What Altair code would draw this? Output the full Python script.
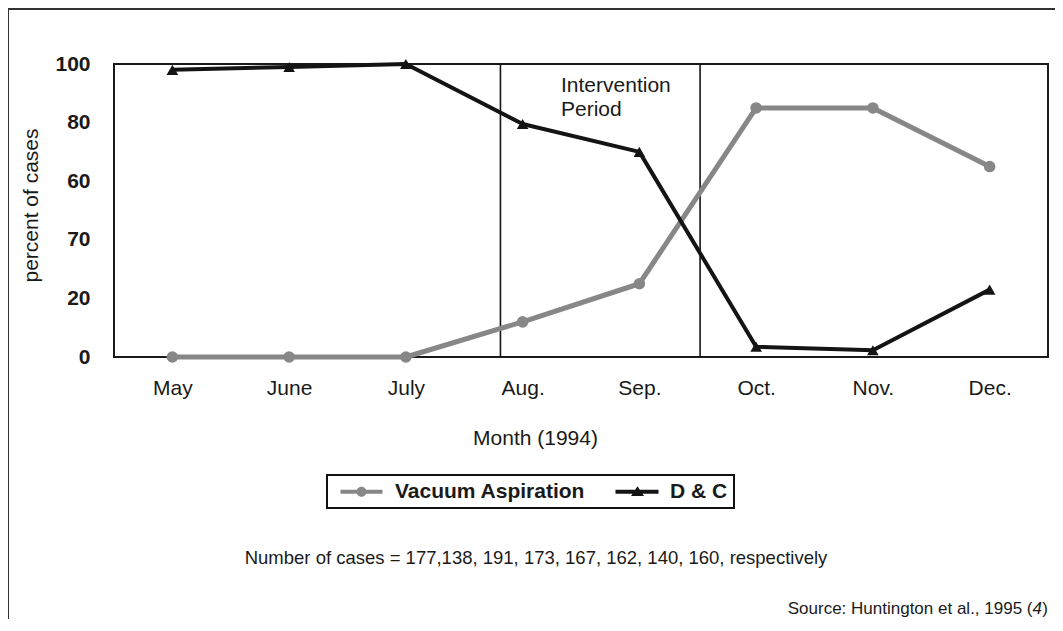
import altair as alt
import pandas as pd

months = ["May", "June", "July", "Aug.", "Sep.", "Oct.", "Nov.", "Dec."]
vacuum = [0, 0, 0, 12, 25, 85, 85, 65]
dc = [98, 99, 100, 79.5, 70, 3.5, 2.3, 23]
series_names = ["Vacuum Aspiration", "D & C"]
y_ticks = [0, 20, 40, 60, 80, 100]
y_tick_labels = ["0", "20", "70", "60", "80", "100"]
intervention_bounds = [2.81, 4.52]
intervention_label = "Intervention\nPeriod"
x_title = "Month (1994)"
y_title = "percent of cases"
note_text = "Number of cases = 177,138, 191, 173, 167, 162, 140, 160, respectively"
source_text = "Source: Huntington et al., 1995 ("
source_ref = "4"

FONT = "Liberation Sans"
GRAY = "#878787"
BLACK = "#141414"
FS = 21

rows = []
for i, m in enumerate(months):
    rows.append({"idx": i, "value": vacuum[i], "series": series_names[0]})
    rows.append({"idx": i, "value": dc[i], "series": series_names[1]})
df = pd.DataFrame(rows)

x_enc = alt.X(
    "idx:Q",
    scale=alt.Scale(domain=[-0.5, len(months) - 0.5], nice=False, zero=False),
    axis=alt.Axis(
        values=list(range(len(months))),
        labelExpr="[" + ",".join("'" + m + "'" for m in months) + "][datum.value]",
        title=x_title, titleX=421,
        grid=False, ticks=False, tickSize=0, domain=False,
        labelPadding=20, labelFontSize=FS, labelFont=FONT, labelColor="#1a1a1a",
        titleFontSize=FS, titleFont=FONT, titleFontWeight="normal", titleColor="#1a1a1a",
        titlePadding=29,
    ),
)
y_enc = alt.Y(
    "value:Q",
    scale=alt.Scale(domain=[0, 100], nice=False),
    axis=alt.Axis(
        values=y_ticks,
        labelExpr="[" + ",".join("'" + s + "'" for s in y_tick_labels) + "][indexof(["
        + ",".join(str(v) for v in y_ticks) + "], datum.value)]",
        title=y_title, titleY=141,
        grid=False, ticks=False, tickSize=0, domain=False,
        labelPadding=24, labelFontSize=FS, labelFontWeight="bold", labelFont=FONT,
        labelColor="#1a1a1a",
        titleFontSize=FS, titleFont=FONT, titleFontWeight="normal", titleColor="#1a1a1a",
        titlePadding=13,
    ),
)

circ_path = ("M-0.3,-0.2 L3.9,-0.2 L3.9,0.2 L-0.3,0.2 Z "
             "M2.3,0 A0.5,0.5 0 1,1 1.3,0 A0.5,0.5 0 1,1 2.3,0 Z")
tri_path = ("M-0.3,-0.2 L4.0,-0.2 L4.0,0.2 L-0.3,0.2 Z "
            "M1.25,0.42 L1.9,-0.55 L2.55,0.42 Z")

legend = alt.Legend(
    title=None, orient="none", legendX=213, legendY=411, direction="horizontal",
    labelFont=FONT, labelFontSize=FS, labelFontWeight="bold", labelColor="#1a1a1a",
    labelOffset=41, columnPadding=22, padding=6, symbolSize=400, labelLimit=400,
    strokeColor="#111111", symbolStrokeWidth=0, symbolOpacity=1,
    symbolFillColor=alt.ExprRef(expr="datum.value == 'D & C' ? '" + BLACK + "' : '" + GRAY + "'"),
    labelExpr="datum.label == 'D & C' ? 'D & C\u00a0\u00a0' : datum.label",
)

color_scale = alt.Scale(domain=series_names, range=[GRAY, BLACK])

rules = alt.Chart(pd.DataFrame({"b": intervention_bounds})).mark_rule(
    color=BLACK, strokeWidth=1.6
).encode(x="b:Q")

lines = alt.Chart(df).mark_line(strokeJoin="round").encode(
    x=x_enc, y=y_enc,
    color=alt.Color("series:N", scale=color_scale, legend=None),
    strokeWidth=alt.StrokeWidth("series:N", scale=alt.Scale(domain=series_names, range=[5, 4]), legend=None),
    order="idx:Q",
)

points = alt.Chart(df).mark_point(filled=True, opacity=1, size=135).encode(
    x="idx:Q", y="value:Q",
    color=alt.Color("series:N", scale=color_scale, legend=None),
    shape=alt.Shape("series:N", scale=alt.Scale(domain=series_names, range=["circle", "triangle-up"]), legend=None),
)

legend_layer = alt.Chart(df).transform_filter("false").mark_point(filled=True, opacity=1, size=400).encode(
    x="idx:Q", y="value:Q",
    color=alt.Color("series:N", scale=color_scale, legend=legend),
    shape=alt.Shape("series:N", scale=alt.Scale(domain=series_names, range=[circ_path, tri_path]), legend=legend),
)

one = pd.DataFrame({"t": [intervention_label]})
interv = alt.Chart(one).mark_text(
    align="left", baseline="top", fontSize=FS, font=FONT, color="#1a1a1a",
    lineBreak="\n", lineHeight=24,
).encode(x=alt.value(447), y=alt.value(11), text="t:N")

note = alt.Chart(pd.DataFrame({"t": [note_text]})).mark_text(
    align="center", baseline="middle", fontSize=18.5, font=FONT, color="#1a1a1a",
).encode(x=alt.value(422), y=alt.value(494), text="t:N")

src1 = alt.Chart(pd.DataFrame({"t": [source_text]})).mark_text(
    align="right", baseline="middle", fontSize=17, font=FONT, color="#1a1a1a",
).encode(x=alt.value(918.5), y=alt.value(545), text="t:N")
src2 = alt.Chart(pd.DataFrame({"t": [source_ref]})).mark_text(
    align="right", baseline="middle", fontSize=17, font=FONT, fontStyle="italic", color="#1a1a1a",
).encode(x=alt.value(928), y=alt.value(545), text="t:N")
src3 = alt.Chart(pd.DataFrame({"t": [")"]})).mark_text(
    align="right", baseline="middle", fontSize=17, font=FONT, color="#1a1a1a",
).encode(x=alt.value(934), y=alt.value(545), text="t:N")

frame_left = alt.Chart(pd.DataFrame({"a": [0]})).mark_rule(color="#333333", strokeWidth=2).encode(
    x=alt.value(-106), y=alt.value(-55), y2=alt.value(560)
)
frame_top = alt.Chart(pd.DataFrame({"a": [0]})).mark_rule(color="#333333", strokeWidth=2).encode(
    x=alt.value(-106), x2=alt.value(945), y=alt.value(-55)
)

chart = alt.layer(
    frame_left, frame_top, rules, lines, points, legend_layer, interv, note, src1, src2, src3
).resolve_scale(
    shape="independent"
).properties(
    width=934, height=293,
    padding={"left": 106, "top": 56, "right": 7, "bottom": 262},
    autosize=alt.AutoSizeParams(type="none"),
    background="white",
).configure_view(
    stroke="#1a1a1a", strokeWidth=2
).configure_legend(
    strokeWidth=2, cornerRadius=0
)

chart.save("out.html", embed_options={"renderer": "svg", "actions": False})
